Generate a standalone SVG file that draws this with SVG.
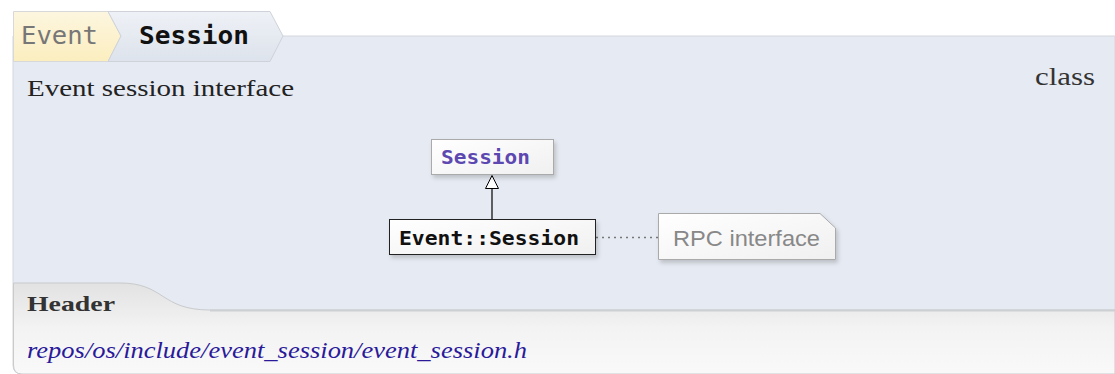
<svg xmlns="http://www.w3.org/2000/svg" width="1115" height="374" viewBox="0 0 1115 374">
<defs>
<linearGradient id="gEvent" x1="0" y1="0" x2="0" y2="1"><stop offset="0" stop-color="#fdf6df"/><stop offset="1" stop-color="#fbeebf"/></linearGradient>
<linearGradient id="gSess" x1="0" y1="0" x2="0" y2="1"><stop offset="0" stop-color="#eef1f6"/><stop offset="1" stop-color="#dde3ec"/></linearGradient>
<linearGradient id="gFoot" x1="0" y1="0" x2="0" y2="1"><stop offset="0" stop-color="#e2e2e2"/><stop offset="0.5" stop-color="#f3f3f3"/><stop offset="1" stop-color="#f9f9f9"/></linearGradient>
<linearGradient id="gBox" x1="0" y1="0" x2="1" y2="1"><stop offset="0" stop-color="#ffffff"/><stop offset="1" stop-color="#f0f0f0"/></linearGradient>
<filter id="sh" x="-10%" y="-20%" width="130%" height="160%"><feDropShadow dx="2" dy="3" stdDeviation="2" flood-color="#000" flood-opacity="0.18"/></filter>
<style>
.serif{font-family:"Liberation Serif","DejaVu Serif",serif}
.mono{font-family:"DejaVu Sans Mono","Liberation Mono",monospace}
.sans{font-family:"Liberation Sans",Arial,sans-serif}
</style>
</defs>
<rect width="1115" height="374" fill="#fff"/>
<g id="panel">
<path d="M13 36 H1115 V374 H22 Q13 374 13 365 Z" fill="#e6eaf2" stroke="#d2d6dc" stroke-width="1"/>
<path d="M13.5 283 H120 C165 283 160 310 210 310 H1115 V374 H22 Q13.5 374 13.5 365 Z" fill="url(#gFoot)" stroke="#c8cacc" stroke-width="1"/>
<line x1="210" y1="310.5" x2="1115" y2="310.5" stroke="#cdd0d3" stroke-width="2"/>
</g>
<g id="breadcrumb">
<path d="M13.5 11.5 H108 L121 36 L108 61.5 H13.5 Z" fill="url(#gEvent)" stroke="#d8d8d8"/>
<path d="M108 11.5 H270 L283 36 L270 61.5 H108 L121 36 Z" fill="url(#gSess)" stroke="#cfd3d9"/>
<text x="21" y="44" class="mono" font-size="24" fill="#777" textLength="77" lengthAdjust="spacingAndGlyphs">Event</text>
<text x="139" y="44" class="mono" font-size="24" font-weight="bold" fill="#111" textLength="110" lengthAdjust="spacingAndGlyphs">Session</text>
</g>
<text x="27" y="96" class="serif" font-size="24" fill="#222" textLength="267" lengthAdjust="spacingAndGlyphs">Event session interface</text>
<text x="1035" y="85" class="serif" font-size="25" fill="#333" textLength="60" lengthAdjust="spacingAndGlyphs">class</text>
<g id="connectors">
<line x1="492" y1="219" x2="492" y2="188" stroke="#000" stroke-width="1.2"/>
<path d="M492 175.5 L498.5 188.5 L485.5 188.5 Z" fill="#fff" stroke="#000" stroke-width="1"/>
<line x1="596" y1="237.5" x2="658" y2="237.5" stroke="#777" stroke-width="1.3" stroke-dasharray="2,4"/>
</g>
<g id="node-session">
<rect x="431.5" y="139.5" width="122" height="35" fill="url(#gBox)" stroke="#aaa" filter="url(#sh)"/>
<text x="441" y="164" class="mono" font-size="20" font-weight="bold" fill="#5c48b0" textLength="89" lengthAdjust="spacingAndGlyphs">Session</text>
</g>
<g id="node-event-session">
<rect x="389.5" y="219.5" width="206" height="35" fill="url(#gBox)" stroke="#222" filter="url(#sh)"/>
<text x="399" y="245" class="mono" font-size="20" font-weight="bold" fill="#111" textLength="180" lengthAdjust="spacingAndGlyphs">Event::Session</text>
</g>
<g id="note-rpc">
<path d="M658.5 213.5 H820 L835.5 228 V259.5 H658.5 Z" fill="url(#gBox)" stroke="#aaa" filter="url(#sh)"/>
<text x="673" y="246" class="sans" font-size="22" fill="#888" textLength="147" lengthAdjust="spacingAndGlyphs">RPC interface</text>
</g>
<text x="27" y="311" class="serif" font-size="22" font-weight="bold" fill="#333" textLength="88" lengthAdjust="spacingAndGlyphs">Header</text>
<text x="27" y="358" class="serif" font-size="23" font-style="italic" fill="#2a1a9a" textLength="500" lengthAdjust="spacingAndGlyphs">repos/os/include/event_session/event_session.h</text>
</svg>
